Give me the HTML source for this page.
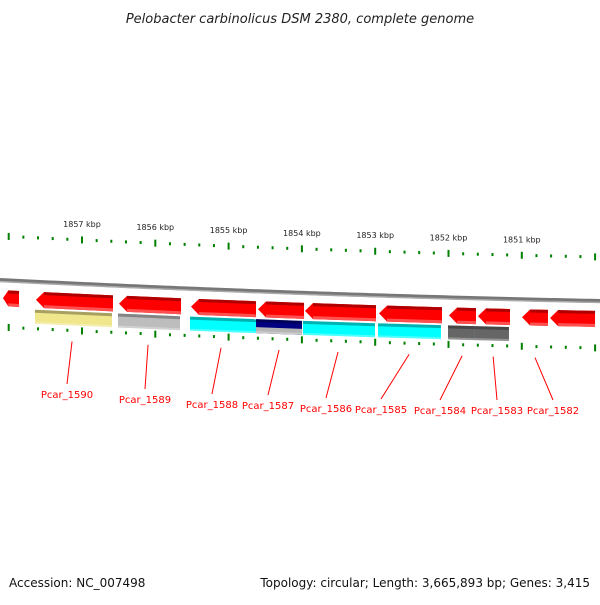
<!DOCTYPE html>
<html><head><meta charset="utf-8"><style>
body{margin:0;background:#fff}
svg text{font-family:"DejaVu Sans","Liberation Sans",sans-serif}
</style></head><body>
<svg id="c" width="600" height="600" viewBox="0 0 600 600" xmlns="http://www.w3.org/2000/svg">
<text x="300" y="23" text-anchor="middle" font-size="13" font-style="italic" fill="#222">Pelobacter carbinolicus DSM 2380, complete genome</text>
<text x="9" y="587" font-size="12" fill="#111">Accession: NC_007498</text>
<text x="590" y="587" text-anchor="end" font-size="12" fill="#111">Topology: circular; Length: 3,665,893 bp; Genes: 3,415</text>
<g id="g"></g>
</svg>
<script>
const majorTicks=[1858,1857,1856,1855,1854,1853,1852,1851,1850];
const tickLabels=["1857 kbp","1856 kbp","1855 kbp","1854 kbp","1853 kbp","1852 kbp","1851 kbp"];
const geneStart=[1858.078,1857.628,1856.495,1855.513,1854.599,1853.958,1852.948,1851.993,1851.598,1850.997,1850.615];
const geneEnd=[1857.859,1856.577,1855.649,1854.626,1853.971,1852.989,1852.089,1851.625,1851.161,1850.643,1850.001];
const featStart=[1857.642,1856.509,1855.527,1854.626,1853.985,1852.962,1852.007,1851.639];
const featEnd=[1856.591,1855.663,1854.626,1853.998,1853.003,1852.103,1851.639,1851.175];
const featColor=["#f0e68c","#bdbdbd","#00ffff","#000080","#00ffff","#00ffff","#666666","#666666"];
const labelNames=["Pcar_1590","Pcar_1589","Pcar_1588","Pcar_1587","Pcar_1586","Pcar_1585","Pcar_1584","Pcar_1583","Pcar_1582"];
const labelKbp=[1857.136,1856.099,1855.103,1854.312,1853.507,1852.537,1851.814,1851.391,1850.820];
const labelX=[67,145,212,268,326,381,440,497,553];
const labelY=[394,399,404,405,408,409,410,410,410];

const NS="http://www.w3.org/2000/svg";
const g=document.getElementById('g');
const X=k=>82+(1857-k)*73.3;
const B=x=>280+0.05*x-0.000025*x*x;
function mk(t,a,p){const e=document.createElementNS(NS,t);for(const k in a)e.setAttribute(k,a[k]);(p||g).appendChild(e);return e;}

let d="";for(let x=0;x<=600;x+=5)d+=(x?"L":"M")+x+","+B(x).toFixed(2);
let bb=mk('path',{d:d,stroke:"#777",'stroke-width':4,fill:"none"});


let bb2=mk('path',{d:d,stroke:"#aaa",'stroke-width':1.5,fill:"none",transform:"translate(0,1.5)"});



for(let k=1858;k>=1849.9;k-=0.2){
  const kk=Math.round(k*10)/10;const x=X(kk);if(x<2||x>599)continue;
  const major=Math.abs(kk-Math.round(kk))<0.01;
  const h=major?7:3;
  let t1=mk('rect',{x:x-1,y:B(x)-44-h/2,width:2,height:h,fill:"#008000"});
  
  
  let t2=mk('rect',{x:x-1,y:B(x)+47-h/2,width:2,height:h,fill:"#008000"});
  
  
}
majorTicks.forEach((k,i)=>{
  if(i===0||i>tickLabels.length)return;
  const x=X(k);
  let t=mk('text',{x:x,y:B(x)-57,'font-size':8,'text-anchor':'middle',fill:"#222"});
  t.textContent=tickLabels[i-1];
  
  
});

geneStart.forEach((s,i)=>{
  const x0=X(s),x1=X(geneEnd[i]);
  const y0=B(x0)+10,y1=B(x1)+10,h=16,hd=Math.min(8,(x1-x0)/3);
  const gp=mk('g',{});
  
  
  const ym0=y0+h/2,ymh=y0+(y1-y0)*hd/(x1-x0);
  mk('polygon',{points:`${x0},${ym0} ${x0+hd},${ymh} ${x1},${y1} ${x1},${y1+h} ${x0+hd},${ymh+h}`,fill:"#ff0000"},gp);
  mk('polygon',{points:`${x0+hd},${ymh} ${x1},${y1} ${x1},${y1+3} ${x0+hd},${ymh+3}`,fill:"#b00000"},gp);
  mk('polygon',{points:`${x0+hd},${ymh+h-3} ${x1},${y1+h-3} ${x1},${y1+h} ${x0+hd},${ymh+h}`,fill:"#ff5050"},gp);
});

featStart.forEach((s,i)=>{
  const x0=X(s),x1=X(featEnd[i]);
  const y0=B(x0)+28,y1=B(x1)+28,h=14;
  const gp=mk('g',{});
  
  
  mk('polygon',{points:`${x0},${y0} ${x1},${y1} ${x1},${y1+h} ${x0},${y0+h}`,fill:featColor[i]},gp);
  if(featColor[i]==="#000080"){
    mk('polygon',{points:`${x0},${y0+8} ${x1},${y1+8} ${x1},${y1+h} ${x0},${y0+h}`,fill:"#b5b5b5"},gp);
  }
  mk('polygon',{points:`${x0},${y0} ${x1},${y1} ${x1},${y1+3} ${x0},${y0+3}`,fill:"#000",'fill-opacity':0.3},gp);
  mk('polygon',{points:`${x0},${y0+h-2} ${x1},${y1+h-2} ${x1},${y1+h} ${x0},${y0+h}`,fill:"#fff",'fill-opacity':0.3},gp);
});

labelNames.forEach((n,i)=>{
  const x=X(labelKbp[i]);
  let l=mk('line',{x1:x,y1:B(x)+58,x2:labelX[i],y2:labelY[i]-10,stroke:"#ff0000",'stroke-width':1});
  
  
  let t=mk('text',{x:labelX[i],y:labelY[i]+4,'font-size':10,'text-anchor':'middle',fill:"#ff0000"});
  t.textContent=n;
  
  
});
</script>
</body></html>
